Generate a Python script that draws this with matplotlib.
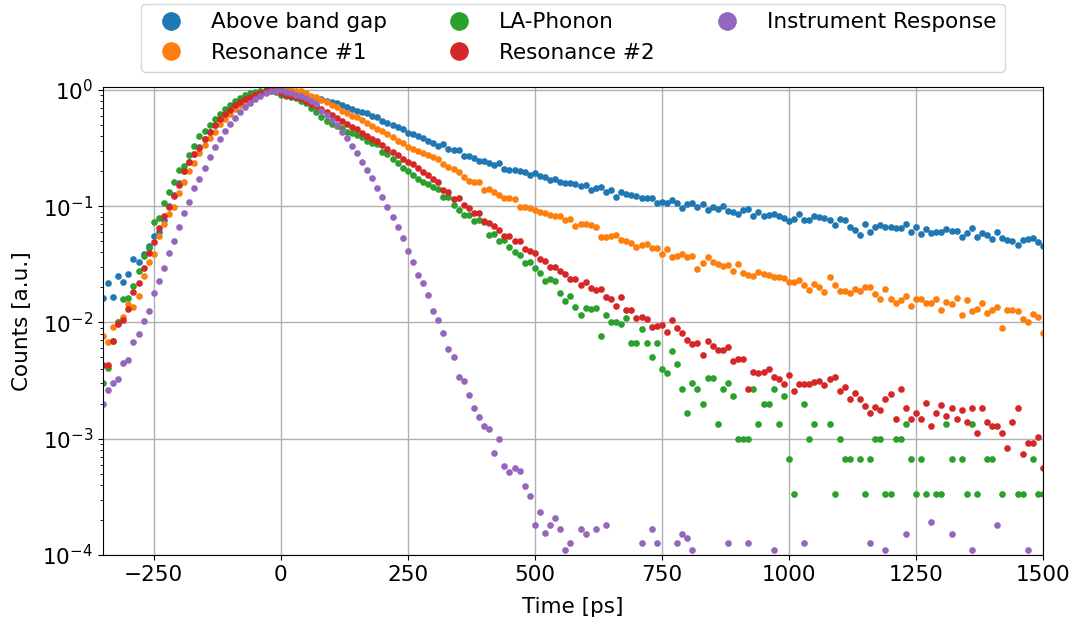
import numpy as np
import matplotlib
matplotlib.use("Agg")
import matplotlib.pyplot as plt

nan = np.nan

# Time axis (ps): detector bins every 10 ps
time_ps = np.arange(-350, 1501, 10)

labels = ["Above band gap", "Resonance #1", "LA-Phonon", "Resonance #2", "Instrument Response"]
colors = ["#1f77b4", "#ff7f0e", "#2ca02c", "#d62728", "#9467bd"]

# log10 of normalised counts (rows of 10 bins, 100 ps each, starting at -350 ps)
above_gap_log = [
    -1.79, -1.66, -1.78, -1.60, -1.65, -1.58, -1.45, -1.48, -1.41, -1.34,
    -1.26, -1.22, -1.12, -1.00, -0.90, -0.80, -0.70, -0.62, -0.55, -0.49,
    -0.42, -0.36, -0.30, -0.25, -0.205, -0.165, -0.13, -0.10, -0.075, -0.055,
    -0.037, -0.022, -0.012, -0.005, -0.001, 0.0, -0.005, -0.012, -0.02, -0.029,
    -0.043, -0.057, -0.069, -0.080, -0.092, -0.10, -0.115, -0.132, -0.149, -0.163,
    -0.178, -0.189, -0.20, -0.22, -0.235, -0.264, -0.284, -0.298, -0.315, -0.335,
    -0.372, -0.378, -0.393, -0.413, -0.436, -0.459, -0.479, -0.465, -0.505, -0.52,
    -0.52, -0.57, -0.57, -0.585, -0.615, -0.608, -0.63, -0.645, -0.625, -0.682,
    -0.688, -0.688, -0.694, -0.702, -0.731, -0.717, -0.74, -0.751, -0.774, -0.768,
    -0.788, -0.797, -0.797, -0.808, -0.826, -0.817, -0.86, -0.846, -0.834, -0.874,
    -0.86, -0.917, -0.878, -0.895, -0.903, -0.912, -0.926, -0.932, -0.926, -0.969,
    -0.96, -0.975, -0.946, -0.975, -1.018, -0.98, -0.975, -1.009, -0.983, -1.032,
    -1.009, -1.023, -0.998, -1.041, -1.046, -1.066, -1.032, -1.026, -1.084, -1.046,
    -1.081, -1.075, -1.069, -1.081, -1.104, -1.124, -1.112, -1.069, -1.118, -1.118,
    -1.084, -1.089, -1.104, -1.118, -1.161, -1.112, -1.115, -1.18, -1.204, -1.247,
    -1.155, -1.218, -1.181, -1.161, -1.175, -1.181, -1.19, -1.184, -1.152, -1.218,
    -1.181, -1.238, -1.198, -1.227, -1.218, -1.218, -1.198, -1.21, -1.213, -1.267,
    -1.227, -1.19, -1.261, -1.227, -1.247, -1.282, -1.218, -1.276, -1.29, -1.3,
    -1.333, -1.29, -1.284, -1.276, -1.304, -1.342,
]

resonance1_log = [
    -2.12, -2.165, -2.04, -2.0, -1.95, -1.84, -1.87, -1.775, -1.60, -1.48,
    -1.41, -1.26, -1.155, -1.07, -1.005, -0.886, -0.79, -0.694, -0.63, -0.54,
    -0.473, -0.416, -0.358, -0.295, -0.25, -0.205, -0.165, -0.13, -0.10, -0.075,
    -0.052, -0.033, -0.018, -0.008, -0.002, 0.0, -0.002, -0.004, -0.007, -0.0115,
    -0.029, -0.049, -0.063, -0.086, -0.106, -0.126, -0.149, -0.178, -0.201, -0.221,
    -0.235, -0.258, -0.287, -0.307, -0.335, -0.35, -0.378, -0.407, -0.436, -0.459,
    -0.488, -0.508, -0.522, -0.542, -0.556, -0.574, -0.594, -0.634, -0.66, -0.68,
    -0.71, -0.745, -0.78, -0.79, -0.795, -0.86, -0.854, -0.874, -0.903, -0.932,
    -0.932, -0.938, -1.004, -1.009, -1.018, -1.032, -1.046, -1.061, -1.075, -1.084,
    -1.084, -1.118, -1.112, -1.17, -1.152, -1.152, -1.161, -1.181, -1.264, -1.264,
    -1.253, -1.247, -1.29, -1.297, -1.319, -1.348, -1.333, -1.325, -1.356, -1.356,
    -1.411, -1.37, -1.433, -1.428, -1.413, -1.439, -1.428, -1.537, -1.485, -1.439,
    -1.482, -1.5, -1.514, -1.505, -1.557, -1.497, -1.577, -1.591, -1.6, -1.563,
    -1.586, -1.591, -1.606, -1.611, -1.62, -1.654, -1.654, -1.634, -1.677, -1.72,
    -1.669, -1.692, -1.74, -1.606, -1.677, -1.729, -1.732, -1.746, -1.715, -1.729,
    -1.697, -1.692, -1.758, -1.798, -1.715, -1.798, -1.835, -1.806, -1.769, -1.855,
    -1.798, -1.798, -1.835, -1.835, -1.798, -1.892, -1.821, -1.844, -1.792, -1.935,
    -1.806, -1.898, -1.884, -1.835, -1.921, -1.892, -1.87, -2.05, -1.892, -1.892,
    -1.898, -1.973, -1.993, -1.927, -1.95, -2.093,
]

la_phonon_log = [
    -2.52, -2.39, -2.16, -2.0, -1.80, -1.79, -1.69, -1.56, -1.43, -1.356,
    -1.14, -1.10, -0.975, -0.875, -0.794, -0.688, -0.651, -0.56, -0.479, -0.393,
    -0.357, -0.30, -0.247, -0.204, -0.163, -0.13, -0.095, -0.066, -0.045, -0.03,
    -0.02, -0.01, -0.003, 0.0, -0.015, -0.043, -0.052, -0.057, -0.072, -0.092,
    -0.115, -0.158, -0.192, -0.229, -0.264, -0.295, -0.31, -0.33, -0.358, -0.373,
    -0.387, -0.407, -0.436, -0.459, -0.467, -0.53, -0.551, -0.596, -0.631, -0.668,
    -0.694, -0.731, -0.766, -0.789, -0.811, -0.832, -0.85, -0.917, -0.925, -0.99,
    -1.03, -1.072, -1.075, -1.13, -1.115, -1.135, -1.25, -1.24, -1.295, -1.29,
    -1.355, -1.395, -1.42, -1.49, -1.48, -1.53, -1.574, -1.64, -1.626, -1.643,
    -1.743, -1.812, -1.769, -1.87, -1.932, -1.872, -1.886, -1.872, -2.113, -1.932,
    -1.998, -1.998, -2.015, -1.958, -2.174, -2.174, -2.059, -2.174, -2.301, -2.174,
    -2.398, -2.431, -2.243, -2.36, -2.574, -2.778, -2.523, -2.574, -2.699, -2.477,
    -2.477, -2.875, -2.574, -2.523, -2.632, -3.0, -3.0, -3.0, -2.574, -2.875,
    -2.699, -2.699, -2.574, -2.875, -2.632, -3.176, -3.477, nan, -2.699, -3.0,
    -2.875, nan, nan, -2.875, -3.477, -3.0, -3.176, -3.176, nan, -3.176,
    -3.477, -3.176, -3.0, -3.0, -3.477, -3.477, -3.0, -3.0, -2.875, -3.176,
    -3.477, -3.176, -3.477, nan, -3.477, -3.477, -2.875, -3.176, nan, -3.176,
    -3.477, -2.875, -3.477, nan, -3.176, -3.176, nan, -3.477, nan, nan,
    -3.477, -3.477, nan, -3.176, -3.477, -3.477,
]

resonance2_log = [
    -2.37, -2.37, -2.157, -2.01, -1.98, -1.887, -1.74, -1.66, -1.53, -1.405,
    -1.31, -1.19, -1.08, -1.01, -0.91, -0.815, -0.697, -0.62, -0.55, -0.50,
    -0.424, -0.36, -0.30, -0.25, -0.21, -0.17, -0.13, -0.106, -0.08, -0.06,
    -0.04, -0.025, -0.01, -0.003, -0.012, -0.028, -0.043, -0.052, -0.063, -0.07,
    -0.093, -0.118, -0.139, -0.165, -0.19, -0.215, -0.242, -0.27, -0.29, -0.315,
    -0.34, -0.368, -0.394, -0.418, -0.44, -0.473, -0.505, -0.53, -0.56, -0.597,
    -0.622, -0.641, -0.672, -0.703, -0.735, -0.763, -0.789, -0.86, -0.875, -0.935,
    -0.932, -0.99, -1.018, -1.06, -1.055, -1.124, -1.147, -1.17, -1.204, -1.256,
    -1.256, -1.296, -1.296, -1.371, -1.385, -1.405, -1.456, -1.468, -1.52, -1.525,
    -1.554, -1.583, -1.626, -1.629, -1.677, -1.649, -1.706, -1.72, -1.715, -1.778,
    -1.795, -1.858, -1.781, -1.89, -1.892, -1.958, -1.95, -1.97, -2.036, -2.027,
    -2.021, -2.079, -1.978, -2.05, -2.09, -2.15, -2.182, -2.173, -2.28, -2.156,
    -2.202, -2.24, -2.24, -2.21, -2.328, -2.31, -2.31, -2.572, -2.423, -2.435,
    -2.423, -2.402, -2.466, -2.489, -2.526, -2.455, -2.586, -2.53, -2.53, -2.53,
    -2.515, -2.5, -2.535, -2.489, -2.466, -2.588, -2.556, -2.658, -2.604, -2.658,
    -2.715, -2.778, -2.731, -2.753, -2.655, -2.617, -2.83, -2.572, -2.733, -2.83,
    -2.776, -2.83, -2.69, -2.887, -2.776, -2.71, -2.802, -2.733, -2.83, -2.753,
    -2.858, -2.733, -2.953, -2.733, -2.858, -2.887, -2.887, -2.953, -3.077, -2.858,
    -2.733, -3.128, -3.034, -3.034, -2.988, -3.249,
]

instrument_log = [
    -2.70, -2.58, -2.52, -2.49, -2.35, -2.32, -2.165, -2.10, -1.985, -1.90,
    -1.75, -1.64, -1.53, -1.40, -1.30, -1.18, -1.06, -0.96, -0.846, -0.763,
    -0.67, -0.574, -0.49, -0.42, -0.35, -0.29, -0.24, -0.19, -0.146, -0.11,
    -0.08, -0.05, -0.03, -0.012, -0.005, 0.0, -0.015, -0.029, -0.043, -0.052,
    -0.072, -0.092, -0.12, -0.178, -0.215, -0.258, -0.30, -0.358, -0.416, -0.479,
    -0.545, -0.617, -0.688, -0.76, -0.84, -0.918, -1.01, -1.09, -1.18, -1.276,
    -1.385, -1.48, -1.59, -1.663, -1.763, -1.904, -1.978, -2.088, -2.225, -2.30,
    -2.466, -2.50, -2.62, -2.738, -2.81, -2.888, -2.913, -3.12, -3.005, -3.237,
    -3.29, -3.254, -3.277, -3.41, -3.495, -3.745, -3.627, -3.813, -3.745, -3.68,
    -3.776, -3.955, -3.90, nan, -3.776, -3.816, nan, -3.776, nan, -3.74,
    nan, nan, nan, nan, nan, nan, -3.90, nan, -3.78, -3.90,
    nan, nan, nan, -3.90, -3.816, -3.857, -3.955, nan, nan, nan,
    nan, nan, nan, -3.90, nan, nan, nan, -3.90, nan, nan,
    nan, nan, -3.955, nan, nan, nan, nan, nan, -3.90, nan,
    nan, nan, nan, nan, nan, nan, nan, nan, nan, nan,
    nan, -3.90, nan, nan, -3.955, nan, nan, nan, -3.816, nan,
    nan, nan, nan, -3.713, nan, nan, nan, -3.816, nan, nan,
    nan, -3.955, nan, nan, nan, nan, -3.745, nan, nan, nan,
    nan, nan, -3.955, nan, nan, nan,
]

series = [above_gap_log, resonance1_log, la_phonon_log, resonance2_log, instrument_log]

fs = 15.5
plt.rcParams["font.family"] = ["DejaVu Sans"]
plt.rcParams["font.size"] = fs

fig = plt.figure(figsize=(10.78, 6.21), dpi=100)
ax = fig.add_axes([0.0955, 0.1063, 0.872, 0.7536])

for vals, lab, col in zip(series, labels, colors):
    counts = np.power(10.0, np.array(vals, dtype=float))
    ax.plot(time_ps, counts, linestyle="none", marker="o", markersize=4.8,
            markeredgewidth=0, color=col, label=lab)

ax.set_yscale("log")
ax.set_ylim(1e-4, 1.06)
ax.set_xlim(-350, 1500)
ax.set_xticks([-250, 0, 250, 500, 750, 1000, 1250, 1500])
ax.grid(True, color="#b0b0b0", linewidth=1.0)
ax.set_axisbelow(True)
ax.tick_params(labelsize=fs)
ax.set_xlabel("Time [ps]", fontsize=fs, labelpad=8.5)
ax.set_ylabel("Counts [a.u.]", fontsize=fs, labelpad=7.5)

ax.legend(loc="lower center", bbox_to_anchor=(0.5, 1.01), ncol=3, markerscale=2.8,
          fontsize=fs, handletextpad=0.85, columnspacing=2.35, borderaxespad=0.5)

fig.savefig("out.png", dpi=100)
